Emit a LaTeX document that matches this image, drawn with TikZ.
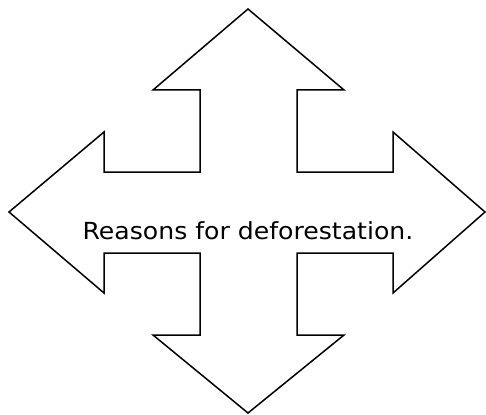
\documentclass[tikz,border=0pt]{standalone}
\usepackage{fontspec}
\setmainfont{DejaVu Sans}
\tikzset{
  shapeline/.style={draw=black, line width=1.5pt, line join=miter, fill=white},
  label/.style={font=\fontsize{23.5}{26}\selectfont, inner sep=0pt, anchor=base}
}
\begin{document}
\begin{tikzpicture}[x=1pt,y=-1pt]
\useasboundingbox (0,0) rectangle (486,414);
\draw[shapeline] (248,9) -- (344,90) -- (297,90) -- (297,172) -- (393,172) -- (393,132)
  -- (485,212) -- (393,293) -- (393,253) -- (297,253) -- (297,335) -- (344,335)
  -- (248,413) -- (153,335) -- (200,335) -- (200,253) -- (104,253) -- (104,293)
  -- (9,212) -- (104,132) -- (104,172) -- (200,172) -- (200,90) -- (153,90) -- cycle;
\node[label] (title) at (248,239) {\scalebox{1.07}[1]{Reasons for deforestation.}};
\end{tikzpicture}
\end{document}
